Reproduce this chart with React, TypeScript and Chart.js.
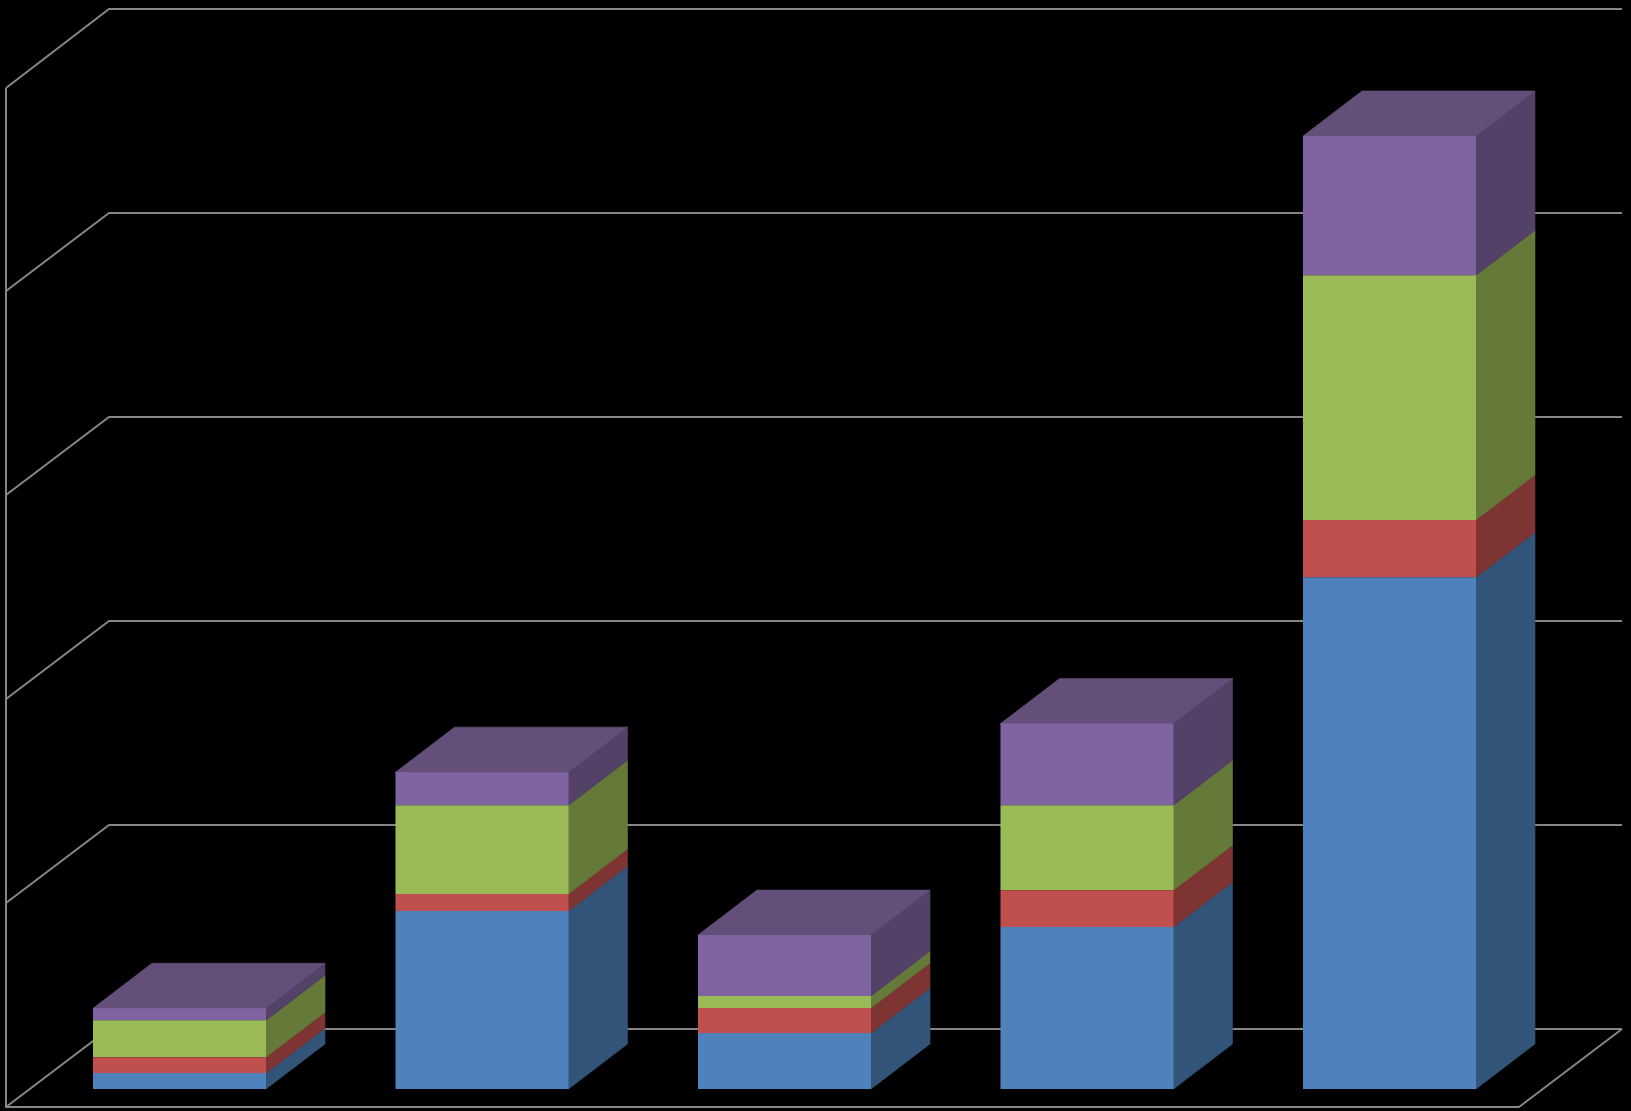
import React, { useEffect, useRef } from "react";
import { Chart, registerables } from "chart.js";

Chart.register(...registerables);

const categories = ["1", "2", "3", "4", "5"];
const seriesBlue = [7.8, 87.3, 27.5, 79.4, 251];
const seriesRed = [7.8, 8.3, 12.2, 18.1, 28.1];
const seriesGreen = [18.1, 43.6, 5.9, 41.7, 120];
const seriesPurple = [5.9, 16.2, 29.9, 40, 68.3];
const tickValues = [0, 100, 200, 300, 400, 500];

const frontColors = ["#4F81BD", "#C0504D", "#9BBB59", "#8064A2"];
const sideColors = ["#325478", "#7D3432", "#657939", "#534168"];
const topColor = "#644F7B";
const lineColor = "#868686";

const FRONT = { dx: -22.25, dy: 18 };
const BACK = { dx: 80.75, dy: -60.5 };
const BAR_DEPTH = { dx: 59, dy: -45 };

const poly = (ctx: CanvasRenderingContext2D, pts: number[][], fill: string) => {
  ctx.beginPath();
  pts.forEach(([x, y], i) => (i ? ctx.lineTo(x, y) : ctx.moveTo(x, y)));
  ctx.closePath();
  ctx.fillStyle = fill;
  ctx.strokeStyle = fill;
  ctx.lineWidth = 0.6;
  ctx.fill();
  ctx.stroke();
};

const box3d = {
  id: "box3d",
  beforeDatasetsDraw(chart: any) {
    const { ctx, chartArea, scales } = chart;
    const y = scales.y;
    const l = chartArea.left;
    const r = chartArea.right;
    ctx.save();
    ctx.strokeStyle = lineColor;
    ctx.lineWidth = 2;
    ctx.lineJoin = "miter";
    tickValues.forEach((v) => {
      const py = y.getPixelForValue(v);
      ctx.beginPath();
      ctx.moveTo(Math.round(l + FRONT.dx), Math.round(py + FRONT.dy));
      ctx.lineTo(Math.round(l + BACK.dx), Math.round(py + BACK.dy));
      ctx.lineTo(Math.round(r + BACK.dx), Math.round(py + BACK.dy));
      ctx.stroke();
    });
    const y0 = y.getPixelForValue(tickValues[0]);
    const yTop = y.getPixelForValue(tickValues[tickValues.length - 1]);
    ctx.beginPath();
    ctx.moveTo(Math.round(l + FRONT.dx), Math.round(yTop + FRONT.dy));
    ctx.lineTo(Math.round(l + FRONT.dx), Math.round(y0 + FRONT.dy));
    ctx.lineTo(Math.round(r + FRONT.dx), Math.round(y0 + FRONT.dy));
    ctx.lineTo(Math.round(r + BACK.dx), Math.round(y0 + BACK.dy));
    ctx.stroke();

    const n = chart.data.datasets.length;
    for (let d = 0; d < n; d++) {
      chart.getDatasetMeta(d).data.forEach((bar: any) => {
        const right = bar.x + bar.width / 2;
        const left = bar.x - bar.width / 2;
        poly(
          ctx,
          [
            [right - 1, bar.y],
            [right, bar.y],
            [right + BAR_DEPTH.dx, bar.y + BAR_DEPTH.dy],
            [right + BAR_DEPTH.dx, bar.base + BAR_DEPTH.dy],
            [right, bar.base],
            [right - 1, bar.base],
          ],
          sideColors[d]
        );
        if (d === n - 1) {
          poly(
            ctx,
            [
              [left, bar.y + 1],
              [left, bar.y],
              [left + BAR_DEPTH.dx, bar.y + BAR_DEPTH.dy],
              [right + BAR_DEPTH.dx, bar.y + BAR_DEPTH.dy],
              [right, bar.y],
              [right, bar.y + 1],
            ],
            topColor
          );
        }
      });
    }
    ctx.restore();
  },
};

const blackBackground = {
  id: "blackBackground",
  beforeDraw(chart: any) {
    const { ctx, width, height } = chart;
    ctx.save();
    ctx.fillStyle = "#000000";
    ctx.fillRect(0, 0, width, height);
    ctx.restore();
  },
};

export default function App() {
  const ref = useRef<HTMLCanvasElement | null>(null);
  useEffect(() => {
    document.body.style.margin = "0";
    document.body.style.background = "#000";
    const chart = new Chart(ref.current as HTMLCanvasElement, {
      type: "bar",
      data: {
        labels: categories,
        datasets: [seriesBlue, seriesRed, seriesGreen, seriesPurple].map((data, i) => ({
          label: "Series " + (i + 1),
          data,
          backgroundColor: frontColors[i],
          borderWidth: 0,
          barPercentage: 0.572,
          categoryPercentage: 1,
        })),
      },
      options: {
        animation: false,
        responsive: false,
        layout: { padding: { left: 28.25, right: 90.25, top: 69.5, bottom: 22 } },
        plugins: { legend: { display: false }, title: { display: false }, tooltip: { enabled: false } },
        scales: {
          x: { stacked: true, display: false },
          y: { stacked: true, display: false, min: 0, max: 500 },
        },
      },
      plugins: [blackBackground, box3d],
    } as any);
    return () => chart.destroy();
  }, []);
  return (
    <canvas
      ref={ref}
      width={1631}
      height={1111}
      style={{ display: "block", position: "absolute", left: 0, top: 0 }}
    />
  );
}
